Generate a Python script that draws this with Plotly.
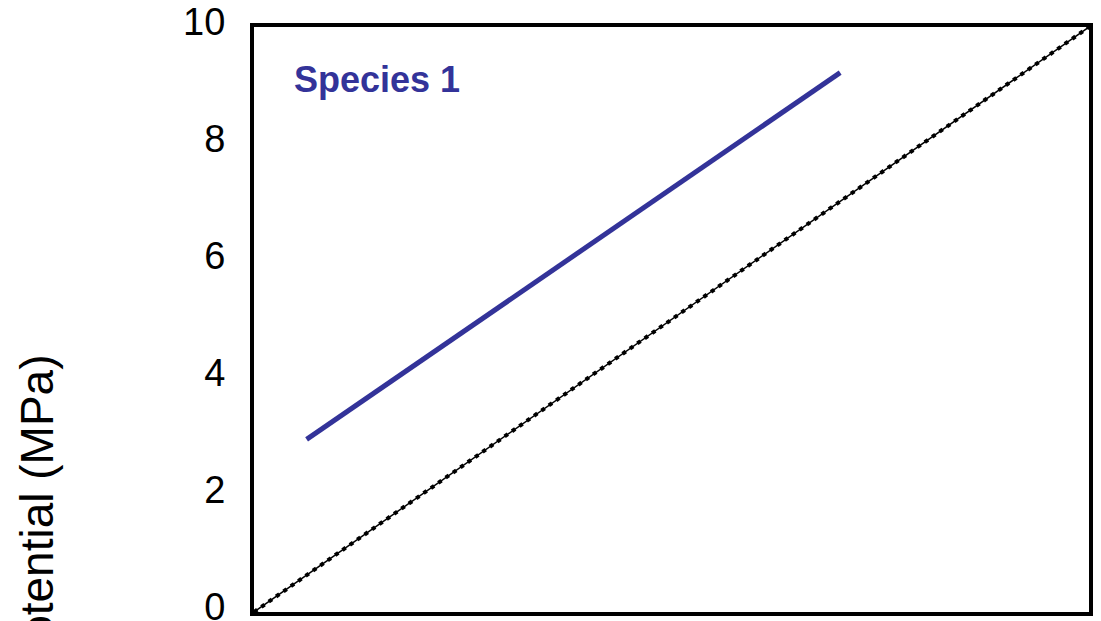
import plotly.graph_objects as go

# 1:1 reference line
ref_x = [0, 10]
ref_y = [0, 10]

# Species 1 fitted line
sp1_x = [0.63, 7.02]
sp1_y = [2.95, 9.22]

y_ticks = [0, 2, 4, 6, 8, 10]

BLUE = '#333399'
FONT = 'Liberation Sans, Arial, sans-serif'

fig = go.Figure()

fig.add_trace(go.Scatter(
    x=ref_x, y=ref_y, mode='lines',
    line=dict(color='black', width=1.5),
    hoverinfo='skip'
))
fig.add_trace(go.Scatter(
    x=ref_x, y=ref_y, mode='lines',
    line=dict(color='black', width=4, dash='4px,5px'),
    hoverinfo='skip'
))
fig.add_trace(go.Scatter(
    x=sp1_x, y=sp1_y, mode='lines',
    line=dict(color=BLUE, width=5),
    hoverinfo='skip'
))

fig.add_annotation(
    text='<b>Species 1</b>',
    xref='paper', yref='paper', x=0.046, y=0.91,
    xanchor='left', yanchor='middle', showarrow=False,
    font=dict(size=36, color=BLUE, family=FONT)
)

# y-axis title, runs off the bottom of the page
fig.add_annotation(
    text='Water potential (MPa)',
    xref='paper', yref='paper', x=-0.26, y=0.444,
    xanchor='center', yanchor='top', showarrow=False,
    textangle=-90,
    font=dict(size=46, color='black', family=FONT)
)

# page body keeps an 8px margin, so the figure is sized to end at the window edge
fig.update_layout(
    width=1093,
    height=613,
    paper_bgcolor='white',
    plot_bgcolor='white',
    showlegend=False,
    margin=dict(l=246, r=12, t=19, b=9, autoexpand=False),
    font=dict(family=FONT, color='black'),
    xaxis=dict(
        range=[0, 10],
        automargin=False,
        showgrid=False, zeroline=False,
        showticklabels=False, ticks='',
        showline=True, linecolor='black', linewidth=4, mirror=True
    ),
    yaxis=dict(
        range=[0, 10],
        automargin=False,
        tickvals=y_ticks,
        showgrid=False, zeroline=False, ticks='',
        tickfont=dict(size=38, color='black', family=FONT),
        ticklabelstandoff=17,
        ticklabelshift=-5,
        ticklabeloverflow='allow',
        showline=True, linecolor='black', linewidth=4, mirror=True
    )
)

fig.write_html("out.html")
